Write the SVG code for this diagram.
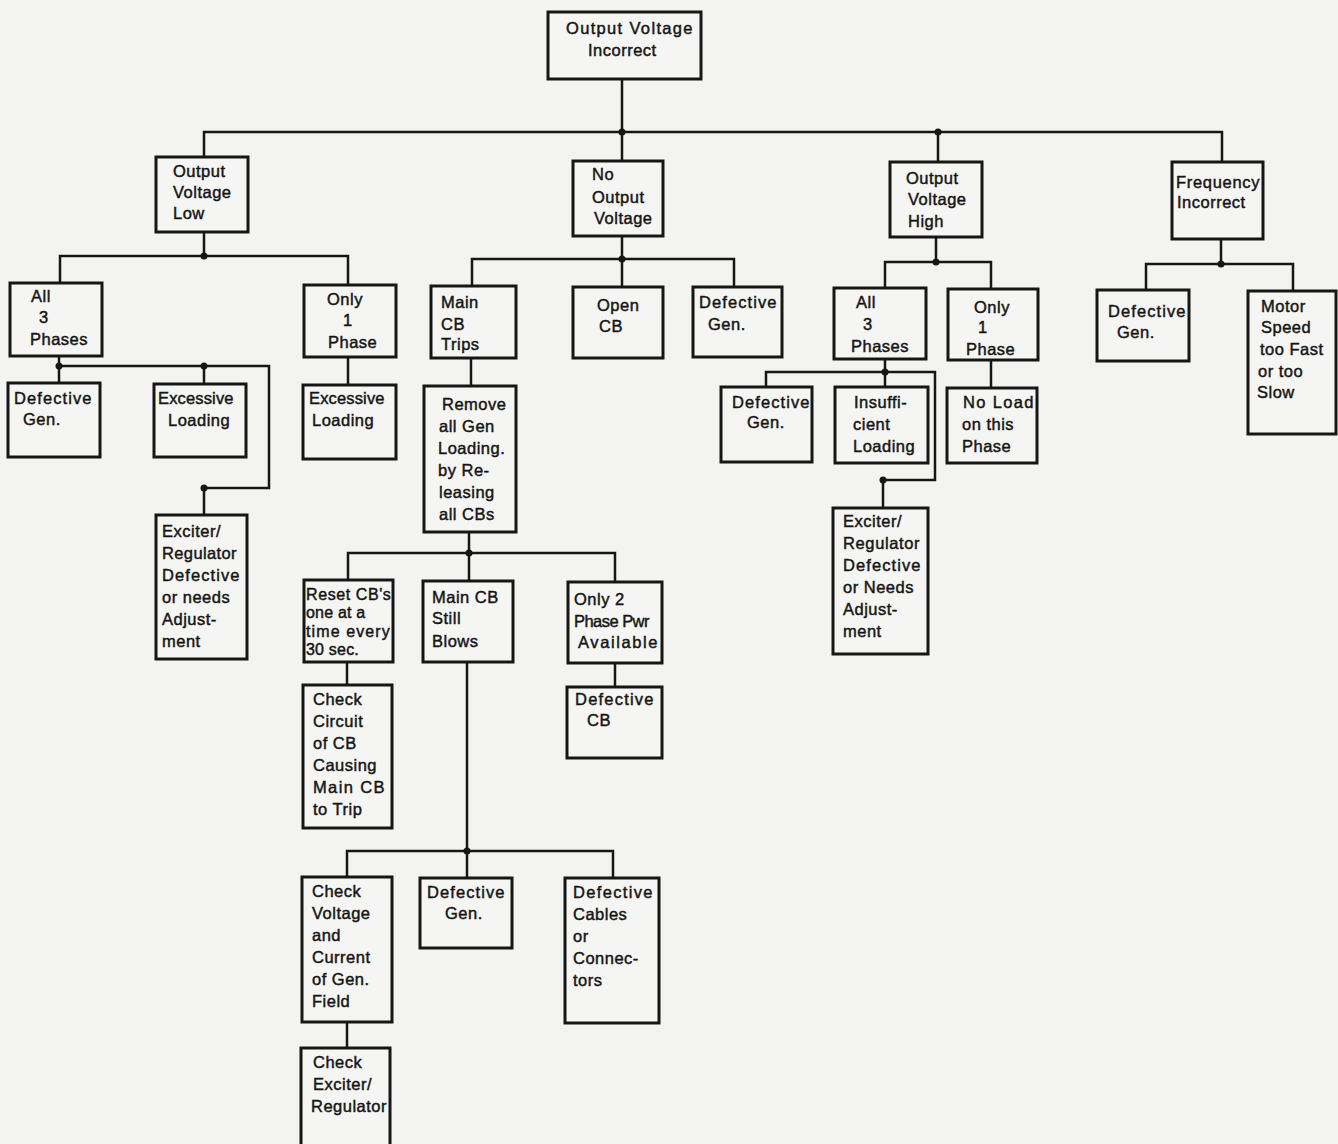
<svg xmlns="http://www.w3.org/2000/svg" width="1338" height="1144" viewBox="0 0 1338 1144">
<style>
.bg{fill:#f3f3f1}
.box{fill:#f5f5f3;stroke:#161616;stroke-width:3}
.con{fill:none;stroke:#161616;stroke-width:2.5}
.dot{fill:#161616}
text{font-family:"Liberation Sans",Arial,sans-serif;font-size:16.5px;letter-spacing:0.5px;fill:#151515;stroke:#151515;stroke-width:0.45}
.sm{font-size:16px;letter-spacing:0.2px}
</style>
<rect class="bg" x="0" y="0" width="1338" height="1144"/>
<g id="connectors">
<path class="con" d="M622 79V132M204 157V132H1222V162M622 132V161M938 132V162"/>
<path class="con" d="M204 232V256M60 283V256H348V285"/>
<path class="con" d="M59 356V383M59 366H269V488H204M204 366V384M204 488V515"/>
<path class="con" d="M348 357V384"/>
<path class="con" d="M622 236V287M472 287V259H734V287"/>
<path class="con" d="M471 358V386"/>
<path class="con" d="M469 532V581M348 580V553H615V582"/>
<path class="con" d="M347 662V685"/>
<path class="con" d="M467 662V878M347 877V851H613V878"/>
<path class="con" d="M615 663V687"/>
<path class="con" d="M347 1022V1048"/>
<path class="con" d="M936 237V262M885 288V262H991V289"/>
<path class="con" d="M885 359V387M766 387V372H935V480H883M883 480V508"/>
<path class="con" d="M991 360V388"/>
<path class="con" d="M1221 239V264M1146 290V264H1293V291"/>
<circle class="dot" cx="622" cy="132" r="3.5"/>
<circle class="dot" cx="938" cy="132" r="3.5"/>
<circle class="dot" cx="204" cy="256" r="3.5"/>
<circle class="dot" cx="59" cy="366" r="3.5"/>
<circle class="dot" cx="204" cy="366" r="3.5"/>
<circle class="dot" cx="204" cy="488" r="3.5"/>
<circle class="dot" cx="622" cy="259" r="3.5"/>
<circle class="dot" cx="469" cy="553" r="3.5"/>
<circle class="dot" cx="467" cy="851" r="3.5"/>
<circle class="dot" cx="936" cy="262" r="3.5"/>
<circle class="dot" cx="885" cy="372" r="3.5"/>
<circle class="dot" cx="883" cy="480" r="3.5"/>
<circle class="dot" cx="1221" cy="264" r="3.5"/>
</g>
<g id="n-root"><rect class="box" x="548" y="12" width="153" height="67"/>
<text x="566" y="34" textLength="127">Output Voltage</text><text x="588" y="56">Incorrect</text></g>
<g id="n-ovl"><rect class="box" x="156" y="157" width="92" height="75"/>
<text x="173" y="177">Output</text><text x="173" y="198">Voltage</text><text x="173" y="219">Low</text></g>
<g id="n-all3-l"><rect class="box" x="10" y="283" width="92" height="73"/>
<text x="31" y="302">All</text><text x="39" y="323">3</text><text x="30" y="345">Phases</text></g>
<g id="n-only1-l"><rect class="box" x="304" y="285" width="92" height="72"/>
<text x="327" y="305">Only</text><text x="343" y="326">1</text><text x="328" y="348">Phase</text></g>
<g id="n-defgen-1"><rect class="box" x="8" y="383" width="92" height="74"/>
<text x="14" y="404" textLength="78">Defective</text><text x="23" y="425">Gen.</text></g>
<g id="n-exload-1"><rect class="box" x="154" y="384" width="92" height="73"/>
<text x="158" y="404" textLength="76">Excessive</text><text x="168" y="426">Loading</text></g>
<g id="n-exload-2"><rect class="box" x="303" y="385" width="93" height="74"/>
<text x="309" y="404" textLength="76">Excessive</text><text x="312" y="426">Loading</text></g>
<g id="n-excreg-l"><rect class="box" x="156" y="515" width="91" height="144"/>
<text x="162" y="537">Exciter/</text><text x="162" y="559" textLength="75">Regulator</text><text x="162" y="581" textLength="78">Defective</text><text x="162" y="603">or needs</text><text x="162" y="625">Adjust-</text><text x="162" y="647">ment</text></g>
<g id="n-nov"><rect class="box" x="573" y="161" width="90" height="75"/>
<text x="592" y="180">No</text><text x="592" y="203">Output</text><text x="594" y="224">Voltage</text></g>
<g id="n-maincbtrips"><rect class="box" x="431" y="286" width="85" height="72"/>
<text x="441" y="308">Main</text><text x="441" y="330">CB</text><text x="441" y="350">Trips</text></g>
<g id="n-opencb"><rect class="box" x="573" y="287" width="90" height="71"/>
<text x="597" y="311">Open</text><text x="599" y="332">CB</text></g>
<g id="n-defgen-2"><rect class="box" x="693" y="287" width="89" height="70"/>
<text x="699" y="308" textLength="78">Defective</text><text x="708" y="330">Gen.</text></g>
<g id="n-remove"><rect class="box" x="424" y="386" width="92" height="146"/>
<text x="442" y="410">Remove</text><text x="439" y="432">all Gen</text><text x="438" y="454">Loading.</text><text x="438" y="476">by Re-</text><text x="439" y="498">leasing</text><text x="439" y="520">all CBs</text></g>
<g id="n-reset"><rect class="box" x="304" y="580" width="89" height="82"/>
<text class="sm" x="306" y="600" textLength="85">Reset CB's</text><text class="sm" x="306" y="618">one at a</text><text class="sm" x="306" y="637" textLength="84">time every</text><text class="sm" x="306" y="655">30 sec.</text></g>
<g id="n-stillblows"><rect class="box" x="423" y="581" width="90" height="81"/>
<text x="432" y="603">Main CB</text><text x="432" y="624">Still</text><text x="432" y="647">Blows</text></g>
<g id="n-only2"><rect class="box" x="568" y="582" width="94" height="81"/>
<text x="574" y="605">Only 2</text><text x="574" y="627" textLength="76">Phase Pwr</text><text x="578" y="648" textLength="80">Available</text></g>
<g id="n-checkcircuit"><rect class="box" x="303" y="685" width="89" height="143"/>
<text x="313" y="705">Check</text><text x="313" y="727">Circuit</text><text x="313" y="749">of CB</text><text x="313" y="771">Causing</text><text x="313" y="793" textLength="72">Main CB</text><text x="313" y="815">to Trip</text></g>
<g id="n-defcb"><rect class="box" x="567" y="687" width="95" height="71"/>
<text x="575" y="705" textLength="79">Defective</text><text x="587" y="726">CB</text></g>
<g id="n-checkvolt"><rect class="box" x="302" y="877" width="90" height="145"/>
<text x="312" y="897">Check</text><text x="312" y="919">Voltage</text><text x="312" y="941">and</text><text x="312" y="963">Current</text><text x="312" y="985">of Gen.</text><text x="312" y="1007">Field</text></g>
<g id="n-defgen-3"><rect class="box" x="420" y="878" width="92" height="70"/>
<text x="427" y="898" textLength="78">Defective</text><text x="445" y="919">Gen.</text></g>
<g id="n-defcables"><rect class="box" x="565" y="878" width="94" height="145"/>
<text x="573" y="898" textLength="80">Defective</text><text x="573" y="920">Cables</text><text x="573" y="942">or</text><text x="573" y="964">Connec-</text><text x="573" y="986">tors</text></g>
<g id="n-checkexc"><rect class="box" x="301" y="1048" width="89" height="110"/>
<text x="313" y="1068">Check</text><text x="313" y="1090">Exciter/</text><text x="311" y="1112" textLength="76">Regulator</text></g>
<g id="n-ovh"><rect class="box" x="890" y="162" width="92" height="75"/>
<text x="906" y="184">Output</text><text x="908" y="205">Voltage</text><text x="908" y="227">High</text></g>
<g id="n-all3-r"><rect class="box" x="834" y="288" width="92" height="71"/>
<text x="856" y="308">All</text><text x="863" y="330">3</text><text x="851" y="352">Phases</text></g>
<g id="n-only1-r"><rect class="box" x="948" y="289" width="90" height="71"/>
<text x="974" y="313">Only</text><text x="978" y="333">1</text><text x="966" y="355">Phase</text></g>
<g id="n-defgen-4"><rect class="box" x="721" y="387" width="91" height="75"/>
<text x="732" y="408" textLength="78">Defective</text><text x="747" y="428">Gen.</text></g>
<g id="n-insuff"><rect class="box" x="835" y="387" width="93" height="76"/>
<text x="854" y="408">Insuffi-</text><text x="853" y="430">cient</text><text x="853" y="452">Loading</text></g>
<g id="n-noload"><rect class="box" x="947" y="388" width="90" height="75"/>
<text x="963" y="408" textLength="71">No Load</text><text x="962" y="430">on this</text><text x="962" y="452">Phase</text></g>
<g id="n-excreg-r"><rect class="box" x="833" y="508" width="95" height="146"/>
<text x="843" y="527">Exciter/</text><text x="843" y="549" textLength="77">Regulator</text><text x="843" y="571" textLength="78">Defective</text><text x="843" y="593">or Needs</text><text x="843" y="615">Adjust-</text><text x="843" y="637">ment</text></g>
<g id="n-freq"><rect class="box" x="1172" y="162" width="91" height="77"/>
<text x="1176" y="188" textLength="84">Frequency</text><text x="1177" y="208">Incorrect</text></g>
<g id="n-defgen-5"><rect class="box" x="1097" y="290" width="92" height="71"/>
<text x="1108" y="317" textLength="78">Defective</text><text x="1117" y="338">Gen.</text></g>
<g id="n-motor"><rect class="box" x="1248" y="291" width="88" height="143"/>
<text x="1261" y="312">Motor</text><text x="1261" y="333">Speed</text><text x="1260" y="355">too Fast</text><text x="1258" y="377">or too</text><text x="1257" y="398">Slow</text></g>
</svg>
